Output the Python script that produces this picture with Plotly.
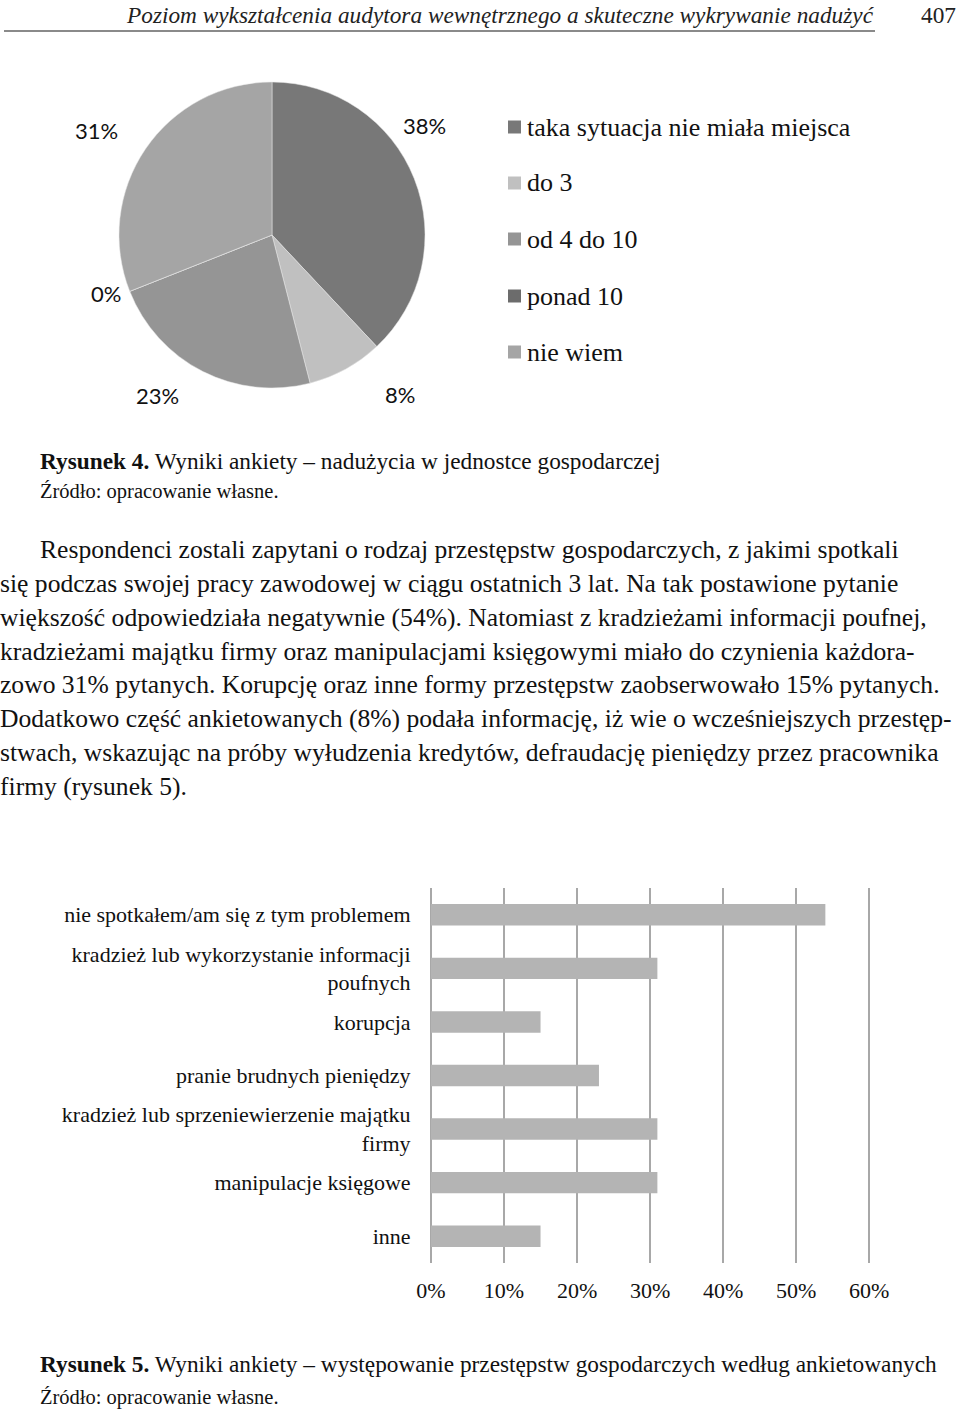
import plotly.graph_objects as go

W, H = 960, 1413

# ---------------- data ----------------
pie_labels = ["taka sytuacja nie miała miejsca", "do 3", "od 4 do 10", "ponad 10", "nie wiem"]
pie_values = [38, 8, 23, 0, 31]
pie_colors = ["#787878", "#c0c0c0", "#959595", "#6c6c6c", "#a5a5a5"]

bar_categories = [
    "nie spotkałem/am się z tym problemem",
    "kradzież lub wykorzystanie informacji<br>poufnych",
    "korupcja",
    "pranie brudnych pieniędzy",
    "kradzież lub sprzeniewierzenie majątku<br>firmy",
    "manipulacje księgowe",
    "inne",
]
bar_values = [0.54, 0.31, 0.15, 0.23, 0.31, 0.31, 0.15]
x_tick_vals = [0, 0.1, 0.2, 0.3, 0.4, 0.5, 0.6]
x_tick_text = ["0%", "10%", "20%", "30%", "40%", "50%", "60%"]

header_text = "Poziom wykształcenia audytora wewnętrznego a skuteczne wykrywanie nadużyć"
page_number = "407"
caption4 = "<b>Rysunek 4.</b> Wyniki ankiety – nadużycia w jednostce gospodarczej"
caption5 = "<b>Rysunek 5.</b> Wyniki ankiety – występowanie przestępstw gospodarczych według ankietowanych"
source_text = "Źródło: opracowanie własne."
paragraph_lines = [
    "Respondenci zostali zapytani o rodzaj przestępstw gospodarczych, z jakimi spotkali",
    "się podczas swojej pracy zawodowej w ciągu ostatnich 3 lat. Na tak postawione pytanie",
    "większość odpowiedziała negatywnie (54%). Natomiast z kradzieżami informacji poufnej,",
    "kradzieżami majątku firmy oraz manipulacjami księgowymi miało do czynienia każdora-",
    "zowo 31% pytanych. Korupcję oraz inne formy przestępstw zaobserwowało 15% pytanych.",
    "Dodatkowo część ankietowanych (8%) podała informację, iż wie o wcześniejszych przestęp-",
    "stwach, wskazując na próby wyłudzenia kredytów, defraudację pieniędzy przez pracownika",
    "firmy (rysunek 5).",
]

# ---------------- layout helpers ----------------
SERIF = "Liberation Serif, Times New Roman, serif"
SANS = "Lato, Open Sans, sans-serif"


def px(x):
    return x / W


def py(y):
    return 1 - y / H


def note(text, x, y, size, xanchor="left", family=SERIF, color="#111"):
    return dict(text=text, x=px(x), y=py(y), xref="paper", yref="paper",
                xanchor=xanchor, yanchor="middle", showarrow=False,
                font=dict(family=family, size=size, color=color))


fig = go.Figure()

# Pie chart
fig.add_trace(go.Pie(
    labels=pie_labels,
    values=pie_values,
    marker=dict(colors=pie_colors, line=dict(color="#e8e8e8", width=0.5)),
    sort=False,
    direction="clockwise",
    rotation=0,
    textinfo="none",
    hoverinfo="label+percent",
    showlegend=False,
    domain=dict(x=[px(119), px(425)], y=[py(388), py(82)]),
))

# Bar chart
fig.add_trace(go.Bar(
    x=bar_values,
    y=bar_categories,
    orientation="h",
    marker=dict(color="#b4b4b4", line=dict(width=0)),
    showlegend=False,
    hovertemplate="%{y}: %{x:.0%}<extra></extra>",
))

annotations = []
shapes = []

# header
annotations.append(note("<i>" + header_text + "</i>", 876, 15, 23.3, xanchor="right", color="#222"))
annotations.append(note(page_number, 958, 15, 23.3, xanchor="right", color="#222"))
shapes.append(dict(type="line", xref="paper", yref="paper", x0=px(4), x1=px(875), y0=py(31), y1=py(31),
                   line=dict(color="#8a8a8a", width=2)))

# pie percentage labels (positions chosen like the original Excel labels)
pie_label_pos = [(424, 126), (400, 394), (157, 396), (106, 294), (96, 130)]
for v, (lx, ly) in zip(pie_values, pie_label_pos):
    annotations.append(note(f"{v}%", lx, ly, 22, xanchor="center", family=SANS))

# custom legend for pie
legend_y = [127, 183, 239, 296, 352]
for lab, col, ly in zip(pie_labels, pie_colors, legend_y):
    shapes.append(dict(type="rect", xref="paper", yref="paper", x0=px(508), x1=px(521),
                       y0=py(ly + 6.5), y1=py(ly - 6.5), fillcolor=col, line=dict(width=0)))
    annotations.append(note(lab, 525, ly, 26))

# captions
annotations.append(note(caption4, 38, 461, 23.3))
annotations.append(note(source_text, 38, 492, 20.5))

# paragraph
para_y = [549, 583, 617, 651, 684, 718, 752, 786]
for i, (line, ly) in enumerate(zip(paragraph_lines, para_y)):
    lx = 38 if i == 0 else -2
    annotations.append(note(line, lx, ly, 25.6))

annotations.append(note(caption5, 38, 1364, 23.3))
annotations.append(note(source_text, 38, 1397, 20.5))

fig.update_layout(
    width=W, height=H,
    margin=dict(l=0, r=0, t=0, b=0, autoexpand=False),
    paper_bgcolor="white", plot_bgcolor="white",
    showlegend=False,
    bargap=0.6,
    annotations=annotations,
    shapes=shapes,
    xaxis=dict(
        domain=[px(431), px(871)],
        range=[0, 0.6025],
        tickvals=x_tick_vals, ticktext=x_tick_text,
        showgrid=True, gridcolor="#a8a8a8", gridwidth=1.5,
        zeroline=True, zerolinecolor="#a8a8a8", zerolinewidth=1.5,
        showline=False, automargin=False,
        ticks="outside", ticklen=8, tickcolor="rgba(0,0,0,0)",
        tickfont=dict(family=SERIF, size=22, color="#111"),
        fixedrange=True,
    ),
    yaxis=dict(
        domain=[py(1263), py(888)],
        categoryorder="array", categoryarray=bar_categories,
        autorange="reversed", automargin=False,
        showgrid=False, zeroline=False, showline=False,
        ticks="outside", ticklen=15, tickcolor="rgba(0,0,0,0)",
        tickfont=dict(family=SERIF, size=22, color="#111"),
        fixedrange=True,
    ),
)

fig.write_html("out.html")
